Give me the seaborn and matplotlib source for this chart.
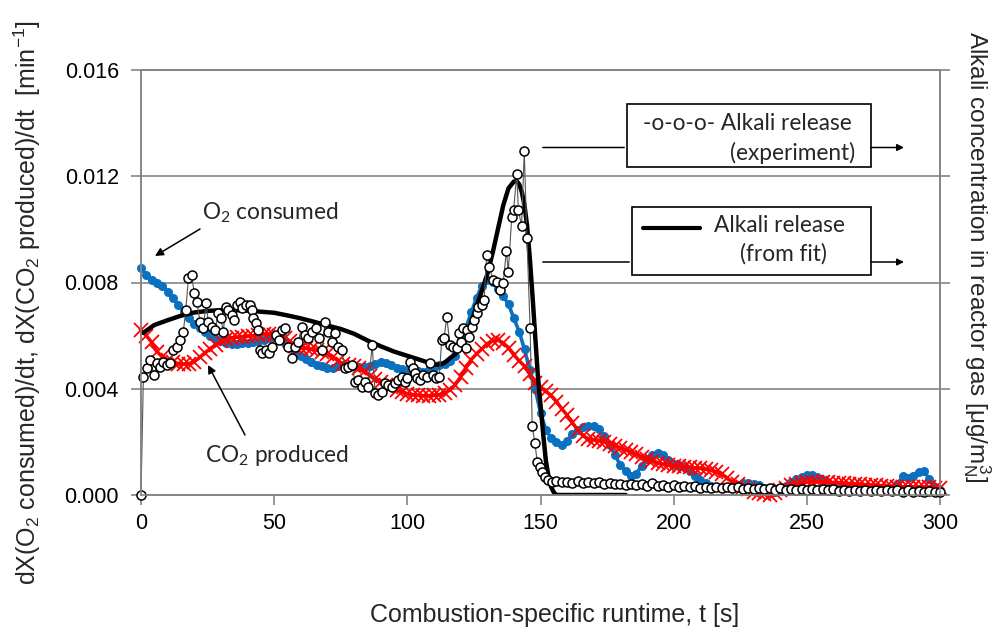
import numpy as np
import matplotlib
matplotlib.use("Agg")
import matplotlib.pyplot as plt
import seaborn as sns
from matplotlib.patches import Rectangle

# ---------------- data ----------------
t_2s = np.arange(0, 301, 2)

o2_consumed = [
    0.00853, 0.0083, 0.00808, 0.00798, 0.00786, 0.00765, 0.00742, 0.00715, 0.0069, 0.00668,
    0.00645, 0.00628, 0.00612, 0.006, 0.00588, 0.00578, 0.00572, 0.0057, 0.0057, 0.00572,
    0.00573, 0.00576, 0.0058, 0.00584, 0.0059, 0.00595, 0.00588, 0.00572, 0.00556, 0.0054,
    0.00524, 0.00512, 0.005, 0.0049, 0.00484, 0.0048, 0.00478, 0.00484, 0.0049, 0.00488,
    0.00484, 0.00482, 0.00482, 0.00485, 0.00492, 0.005, 0.00498, 0.00488, 0.00478, 0.00474,
    0.00471, 0.00468, 0.00466, 0.00464, 0.00472, 0.0048, 0.00488, 0.00495, 0.00505, 0.00525,
    0.0057, 0.00628, 0.00688, 0.00742, 0.00788, 0.0081, 0.00802, 0.00775, 0.00748, 0.00718,
    0.00665, 0.00615, 0.00548, 0.0047, 0.004, 0.0031, 0.00245, 0.00215, 0.002, 0.0019,
    0.00205, 0.0023, 0.00245, 0.00255, 0.00258, 0.00258, 0.00248, 0.00222, 0.0019, 0.0015,
    0.00112, 0.0009, 0.00072, 0.0008, 0.0011, 0.00135, 0.00152, 0.0016, 0.0015, 0.0013,
    0.00118, 0.00112, 0.00105, 0.0009, 0.0007, 0.00056, 0.00045, 0.00035, 0.0003, 0.0003,
    0.0003, 0.00032, 0.00038, 0.00044, 0.00046, 0.00042, 0.00036, 0.00025, 0.00015, 0.0001,
    0.00018, 0.00035, 0.0005, 0.0006, 0.00068, 0.00074, 0.00075, 0.00066, 0.00056, 0.00045,
    0.00036, 0.0003, 0.00026, 0.00023, 0.0002, 0.0002, 0.0002, 0.0002, 0.0002, 0.0002,
    0.00022, 0.00025, 0.0004, 0.0007, 0.00065, 0.00072, 0.00085, 0.0009, 0.0006, 0.0003,
    0.0002,
]

co2_produced = [
    0.0062, 0.006, 0.00575, 0.0054, 0.0052, 0.00508, 0.005, 0.00495, 0.00492, 0.00495,
    0.00502, 0.00518, 0.00535, 0.0055, 0.00565, 0.00578, 0.00588, 0.00592, 0.00594, 0.00596,
    0.00598, 0.006, 0.00604, 0.00606, 0.00606, 0.00604, 0.006, 0.00592, 0.00578, 0.00562,
    0.00555, 0.00552, 0.00548, 0.00545, 0.0054, 0.00532, 0.0052, 0.00505, 0.00492, 0.00488,
    0.00485, 0.00478, 0.00465, 0.00448, 0.00435, 0.00425, 0.00415, 0.00405, 0.00396, 0.00388,
    0.00382, 0.00378, 0.00375, 0.00374, 0.00374, 0.00375, 0.00378, 0.00385, 0.00395, 0.00415,
    0.00445, 0.0048, 0.0051, 0.00532, 0.0055, 0.0057, 0.0058, 0.00583, 0.00572, 0.00555,
    0.00528, 0.00505, 0.00485, 0.00455, 0.0042, 0.00405, 0.0039, 0.00375, 0.00352, 0.00325,
    0.003, 0.00272, 0.00245, 0.00222, 0.00212, 0.00208, 0.00205, 0.002, 0.00193, 0.00186,
    0.00178, 0.0017, 0.00162, 0.00153, 0.00143, 0.00135, 0.00128, 0.00121, 0.00115, 0.00112,
    0.0011, 0.00108, 0.00107, 0.00105, 0.00102, 0.001, 0.00097, 0.00093, 0.00088, 0.00078,
    0.00064, 0.0005, 0.0004, 0.00031, 0.00022, 0.00013, 0.00008, 0.00003, 0.0, 0.00008,
    0.00018, 0.00028, 0.00036, 0.00042, 0.00046, 0.00048, 0.0005, 0.0005, 0.00049, 0.00048,
    0.00047, 0.00046, 0.00045, 0.00043, 0.00042, 0.0004, 0.00039, 0.00038, 0.00036, 0.00035,
    0.00034, 0.00032, 0.00031, 0.00031, 0.0003, 0.0003, 0.0003, 0.0003, 0.00029, 0.00028,
    0.00028,
]

exp_t_main = [
    0, 0.9, 2.1, 3.4, 5.0, 5.9, 7.1, 8.4, 9.7, 10.9,
    12.1, 13.4, 14.6, 15.9, 16.8, 17.8, 19.0, 20.0, 20.9, 22.2,
    23.4, 24.4, 25.3, 26.5, 27.8, 29.0, 30.0, 30.9, 31.8, 32.8,
    34.1, 35.0, 35.9, 37.2, 38.0, 39.3, 40.9, 41.6, 42.2, 43.1,
    43.8, 44.7, 45.5, 46.8, 48.1, 49.1, 50.6, 51.8, 53.1, 54.1,
    55.3, 56.6, 57.8, 59.1, 60.3, 61.6, 62.8, 64.1, 65.6, 66.8,
    68.1, 69.1, 70.3, 71.6, 72.8, 74.1, 75.4, 76.6, 77.8, 79.1,
    80.4, 81.6, 82.9, 84.1, 85.3, 86.8, 87.9, 89.1, 90.4, 91.6,
    92.9, 94.1, 95.4, 96.6, 97.9, 99.1, 100.0, 101.0, 102.0, 102.9,
    103.7, 104.8, 106.0, 107.3, 108.5, 109.5, 110.8, 112.0, 112.9, 113.8,
    114.8, 116.0, 117.3, 118.5, 119.3, 120.0, 121.0, 122.0, 122.5, 123.3,
    124.2, 125.0, 126.0, 126.6, 127.9, 128.8, 129.8, 130.8, 132.2, 133.5,
    134.8, 136.0, 137.2, 137.9, 139.2, 139.9, 141.1, 141.7, 142.9, 143.9,
    144.9, 146.1, 146.9, 147.9, 148.8, 149.7, 150.6, 151.7, 152.9, 154.2,
]
exp_v_main = [
    0.0, 0.00445, 0.00477, 0.00508, 0.00452, 0.00496, 0.00483, 0.00502, 0.0049, 0.00496,
    0.00546, 0.00558, 0.00583, 0.00615, 0.00696, 0.00816, 0.00828, 0.0076, 0.00728, 0.00652,
    0.00627, 0.00722, 0.00652, 0.00634, 0.00621, 0.00684, 0.00665, 0.00615, 0.00709, 0.00696,
    0.00678, 0.00659, 0.00715, 0.00728, 0.00703, 0.00715, 0.00715, 0.00696, 0.00665, 0.00646,
    0.00621, 0.00546, 0.00533, 0.00546, 0.00533, 0.00558, 0.00602, 0.00583, 0.00621, 0.00627,
    0.00558, 0.00515, 0.00558, 0.00577, 0.00634, 0.00602, 0.0059, 0.00615, 0.00627, 0.0059,
    0.00546, 0.00652, 0.00615, 0.00575, 0.00609, 0.00558, 0.00546, 0.00477, 0.00483, 0.0049,
    0.00427, 0.00433, 0.00408, 0.00427, 0.00408, 0.00565, 0.00383, 0.00376, 0.00389, 0.0042,
    0.00414, 0.00408, 0.0042, 0.00433, 0.00445, 0.00427, 0.00439, 0.00502, 0.00477, 0.00458,
    0.00439, 0.00433, 0.00452, 0.00445, 0.00496, 0.00452, 0.00439, 0.00445, 0.00583, 0.0059,
    0.00671, 0.00565, 0.00558, 0.00552, 0.00609, 0.00577, 0.00627, 0.00552, 0.00621, 0.00596,
    0.00634, 0.00659, 0.00684, 0.00709, 0.00715, 0.00734, 0.00905, 0.0086, 0.0081, 0.00803,
    0.0077, 0.008, 0.0092, 0.0084, 0.01046, 0.01073, 0.01208, 0.01072, 0.01013, 0.01294,
    0.00968, 0.00627, 0.00258, 0.00195, 0.00123, 0.00105, 0.00085, 0.00066, 0.00056, 0.0005,
]
exp_t_tail = np.arange(156, 301, 2)
exp_v_tail = [
    0.00052, 0.00048, 0.0005, 0.00047, 0.00052, 0.00045, 0.00049, 0.00044, 0.0005, 0.00042,
    0.00046, 0.0004, 0.00043, 0.00038, 0.00042, 0.00036, 0.0004, 0.00035, 0.00044, 0.00034,
    0.00038, 0.00032, 0.00036, 0.0003, 0.00035, 0.00029, 0.00034, 0.00028, 0.00032, 0.00027,
    0.00031, 0.00026, 0.0003, 0.00025, 0.00029, 0.00024, 0.00028, 0.00023, 0.00027, 0.00022,
    0.00026, 0.0002, 0.00025, 0.0002, 0.00024, 0.00019, 0.00023, 0.00018, 0.00022, 0.00018,
    0.00021, 0.00017, 0.00021, 0.00016, 0.0002, 0.00016, 0.0002, 0.00015, 0.00019, 0.00015,
    0.00019, 0.00014, 0.00018, 0.00014, 0.00018, 0.00013, 0.00017, 0.00013, 0.00016, 0.00012,
    0.00016, 0.00012, 0.0001,
]

fit_t = [0.8, 5, 10, 15, 20, 25, 30, 35, 40, 45, 50, 55, 60, 65, 70, 75, 80, 85, 90, 95,
         100, 105, 110, 112, 114, 116, 118, 120, 122, 124, 126, 128, 130, 132, 134, 136,
         138, 140, 141, 142, 143, 144, 145, 146, 147, 148, 149, 150, 151, 152, 153, 154,
         155, 156, 170, 182]
fit_v = [0.0061, 0.0064, 0.00658, 0.00675, 0.00687, 0.00693, 0.00696, 0.00696, 0.00694,
         0.0069, 0.00686, 0.00676, 0.00665, 0.00652, 0.00638, 0.00625, 0.00607, 0.00582,
         0.0056, 0.0054, 0.00524, 0.00508, 0.00492, 0.0049, 0.00498, 0.00515, 0.0053,
         0.00555, 0.0059, 0.0065, 0.0071, 0.0077, 0.0083, 0.0091, 0.01, 0.0109, 0.01155,
         0.0118, 0.01182, 0.0117, 0.0114, 0.0109, 0.0101, 0.0089, 0.0075, 0.006, 0.0045,
         0.0034, 0.0023, 0.0013, 0.0007, 0.0003, 0.0001, 0.0, 0.0, 0.0]

x_ticks = [0, 50, 100, 150, 200, 250, 300]
y_ticks = [0.0, 0.004, 0.008, 0.012, 0.016]
y_tick_labels = ["0.000", "0.004", "0.008", "0.012", "0.016"]

exp_t = list(exp_t_main) + list(exp_t_tail)
exp_v = list(exp_v_main) + list(exp_v_tail)

# ---------------- style ----------------
sns.set_theme(style="white")
plt.rcParams['font.family'] = ['Liberation Sans', 'DejaVu Sans']
plt.rcParams['mathtext.default'] = 'regular'

GRAY = '#858585'
ANN_FONT = ['Lato', 'DejaVu Sans']

fig = plt.figure(figsize=(9.94, 6.32), dpi=100)
ax = fig.add_axes([141 / 994, 1 - 495 / 632, 799 / 994, 425 / 632])

sns.lineplot(x=t_2s, y=o2_consumed, ax=ax, color='#0A70C0', marker='o',
             markersize=6.5, markeredgewidth=0, markeredgecolor='#0A70C0',
             linewidth=2.6, estimator=None, sort=False, zorder=2, clip_on=False)
sns.lineplot(x=t_2s, y=co2_produced, ax=ax, color='#FF0000', marker='x',
             markersize=10, markeredgewidth=1.3, markeredgecolor='#FF0000',
             linewidth=2.5, estimator=None, sort=False, zorder=3, clip_on=False)
sns.lineplot(x=fit_t, y=fit_v, ax=ax, color='black', linewidth=3.2,
             estimator=None, sort=False, zorder=4)
sns.lineplot(x=exp_t, y=exp_v, ax=ax, color='#555555', linewidth=0.8,
             marker='o', markersize=6.5, markerfacecolor='white',
             markeredgecolor='black', markeredgewidth=1.1,
             estimator=None, sort=False, zorder=5, clip_on=False)

ax.set_xlim(0, 300)
ax.set_ylim(0, 0.016)
ax.set_xticks(x_ticks)
ax.set_xticklabels([str(v) for v in x_ticks])
ax.set_yticks(y_ticks)
ax.set_yticklabels(y_tick_labels)
ax.set_axisbelow(True)
ax.yaxis.grid(True, color=GRAY, linewidth=1.2)
ax.xaxis.grid(False)
for s in ax.spines.values():
    s.set_color(GRAY)
    s.set_linewidth(1.2)
ax.tick_params(axis='both', which='both', bottom=True, left=True, direction='out',
               length=7, width=1.2, color=GRAY, labelcolor='black', labelsize=15.5)
ax.tick_params(axis='y', pad=9)
ax.tick_params(axis='x', pad=6)

ax.set_xlabel("Combustion-specific runtime, t [s]", fontsize=18)
ax.xaxis.set_label_coords(0.518, -0.255)
ax.set_ylabel(r"dX(O$_2$ consumed)/dt, dX(CO$_2$ produced)/dt  [min$^{-1}$]", fontsize=18)
ax.yaxis.set_label_coords(-0.123, 0.452)

ax2 = ax.twinx()
ax2.set_ylim(0, 0.016)
ax2.set_yticks(y_ticks)
ax2.set_yticklabels([])
ax2.tick_params(axis='y', right=True, direction='out', length=7, width=1.2, color=GRAY)
ax2.grid(False)
for s in ax2.spines.values():
    s.set_color(GRAY)
    s.set_linewidth(1.2)
ax2.set_ylabel(r"Alkali concentration in reactor gas [μg/m$_N^3$]", fontsize=17.5,
               rotation=270, va='bottom')
ax2.yaxis.set_label_coords(1.026, 0.56)

# ---------------- annotations ----------------
def px(xp, yp):
    return ((xp - 141) / 799, (495 - yp) / 425)

tr = ax.transAxes
ANN_SIZE = 16.3
# box 1
x0, y0 = px(627, 167); x1, y1 = px(871, 104)
ax.add_patch(Rectangle((x0, y0), x1 - x0, y1 - y0, transform=tr, facecolor='white',
                       edgecolor='black', linewidth=1.2, zorder=6, clip_on=False))
ax.text(*px(643, 123), "-o-o-o- Alkali release", transform=tr, fontsize=ANN_SIZE,
        family=ANN_FONT, ha='left', va='center', zorder=7)
ax.text(*px(855, 153), "(experiment)", transform=tr, fontsize=ANN_SIZE,
        family=ANN_FONT, ha='right', va='center', zorder=7)
ax.annotate("", xy=px(627, 147.5), xytext=px(540, 147.5), xycoords=tr, textcoords=tr,
            arrowprops=dict(arrowstyle='-', color='black', lw=1.1), zorder=6)
ax.annotate("", xy=px(904, 147.5), xytext=px(871, 147.5), xycoords=tr, textcoords=tr,
            arrowprops=dict(arrowstyle='-|>', color='black', lw=1.1, mutation_scale=10,
                            shrinkA=0, shrinkB=0), zorder=6, annotation_clip=False)
# box 2
x0, y0 = px(632, 275); x1, y1 = px(871, 207)
ax.add_patch(Rectangle((x0, y0), x1 - x0, y1 - y0, transform=tr, facecolor='white',
                       edgecolor='black', linewidth=1.2, zorder=6, clip_on=False))
lx0, ly = px(643, 228); lx1, _ = px(700, 228)
ax.plot([lx0, lx1], [ly, ly], transform=tr, color='black', linewidth=3, zorder=7)
ax.text(*px(714, 225), "Alkali release", transform=tr, fontsize=ANN_SIZE,
        family=ANN_FONT, ha='left', va='center', zorder=7)
ax.text(*px(740, 254), "(from fit)", transform=tr, fontsize=ANN_SIZE,
        family=ANN_FONT, ha='left', va='center', zorder=7)
ax.annotate("", xy=px(632, 262), xytext=px(540, 262), xycoords=tr, textcoords=tr,
            arrowprops=dict(arrowstyle='-', color='black', lw=1.1), zorder=6)
ax.annotate("", xy=px(904, 262), xytext=px(871, 262), xycoords=tr, textcoords=tr,
            arrowprops=dict(arrowstyle='-|>', color='black', lw=1.1, mutation_scale=10,
                            shrinkA=0, shrinkB=0), zorder=6, annotation_clip=False)

# O2 / CO2 labels
ax.text(*px(202, 213), r"O$_2$ consumed", transform=tr, fontsize=16.3,
        family=ANN_FONT, ha='left', va='center', zorder=7)
ax.annotate("", xy=px(155, 256), xytext=px(200, 229), xycoords=tr, textcoords=tr,
            arrowprops=dict(arrowstyle='-|>', color='black', lw=1.1, mutation_scale=12,
                            shrinkA=0, shrinkB=0), zorder=7)
ax.text(*px(205, 455), r"CO$_2$ produced", transform=tr, fontsize=16.3,
        family=ANN_FONT, ha='left', va='center', zorder=7)
ax.annotate("", xy=px(208, 365), xytext=px(245, 435), xycoords=tr, textcoords=tr,
            arrowprops=dict(arrowstyle='-|>', color='black', lw=1.1, mutation_scale=12,
                            shrinkA=0, shrinkB=0), zorder=7)

leg = ax.get_legend()
if leg is not None:
    leg.remove()

fig.savefig("out.png", dpi=100)
